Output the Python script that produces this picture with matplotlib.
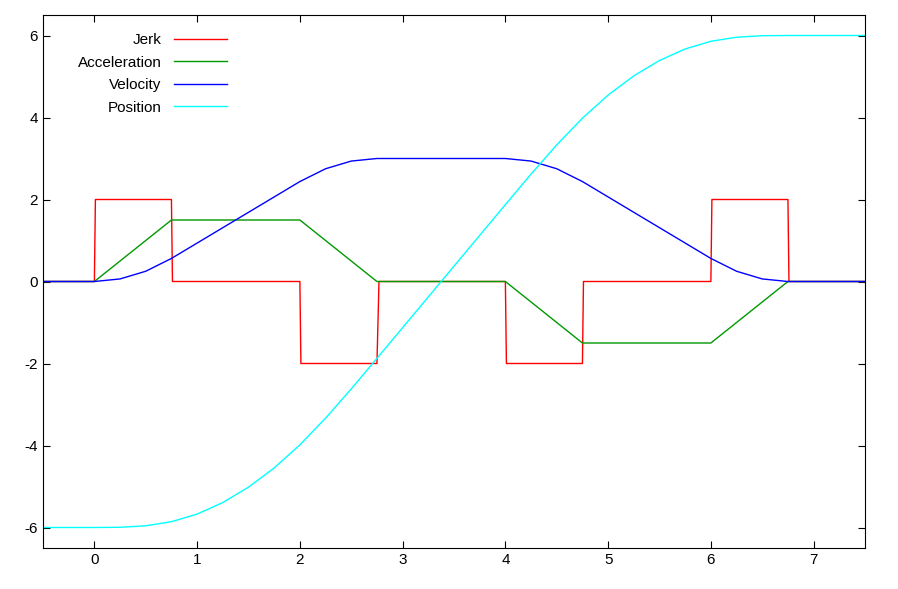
import matplotlib
matplotlib.use("Agg")
import matplotlib.pyplot as plt

plt.rcParams['font.family'] = ['Liberation Sans', 'DejaVu Sans']
plt.rcParams['axes.unicode_minus'] = False

# jerk profile (step corners)
jerk_t = [-0.5, 0, 0.01, 0.75, 0.76, 2, 2.01, 2.75, 2.77, 4, 4.01, 4.75, 4.76, 6, 6.01, 6.75, 6.76, 7.5]
jerk_v = [0, 0, 2, 2, 0, 0, -2, -2, 0, 0, -2, -2, 0, 0, 2, 2, 0, 0]

# acceleration breakpoints
acc_t = [-0.5, 0, 0.75, 2, 2.75, 4, 4.75, 6, 6.75, 7.5]
acc_v = [0, 0, 1.5, 1.5, 0, 0, -1.5, -1.5, 0, 0]

# velocity and position read at 0.25 steps
t = [-0.5, -0.25, 0, 0.25, 0.5, 0.75, 1, 1.25, 1.5, 1.75, 2, 2.25, 2.5, 2.75, 3, 3.25, 3.5, 3.75,
     4, 4.25, 4.5, 4.75, 5, 5.25, 5.5, 5.75, 6, 6.25, 6.5, 6.75, 7, 7.25, 7.5]
vel = [0, 0, 0, 0.0625, 0.25, 0.5625, 0.9375, 1.3125, 1.6875, 2.0625, 2.4375, 2.75, 2.9375, 3, 3, 3, 3, 3,
       3, 2.9375, 2.75, 2.4375, 2.0625, 1.6875, 1.3125, 0.9375, 0.5625, 0.25, 0.0625, 0, 0, 0, 0]
pos = [-6, -6, -6, -5.995, -5.958, -5.859, -5.672, -5.391, -5.016, -4.547, -3.984, -3.333, -2.620, -1.875,
       -1.125, -0.375, 0.375, 1.125, 1.875, 2.620, 3.333, 3.984, 4.547, 5.016, 5.391, 5.672, 5.859,
       5.958, 5.995, 6, 6, 6, 6]

fig = plt.figure(figsize=(8.98, 5.89), dpi=100)
ax = fig.add_axes([43 / 898, 1 - 548 / 589, 822 / 898, 533 / 589])

ax.plot(jerk_t, jerk_v, color='#ff0000', lw=1, label='Jerk')
ax.plot(acc_t, acc_v, color='#009900', lw=1, label='Acceleration')
ax.plot(t, vel, color='#0000ff', lw=1, label='Velocity')
ax.plot(t, pos, color='#00ffff', lw=1, label='Position')

ax.set_xlim(-0.5, 7.5)
ax.set_ylim(-6.5, 6.5)
ax.set_xticks(range(0, 8))
ax.set_yticks(range(-6, 7, 2))
ax.tick_params(direction='in', top=True, right=True, labelsize=11, length=5)

ax.legend(loc='upper left', frameon=False, markerfirst=False, fontsize=11,
          handlelength=3.5, borderaxespad=0.8, labelspacing=0.55, bbox_to_anchor=(0.02, 1.0))

fig.savefig('out.png', dpi=100)
